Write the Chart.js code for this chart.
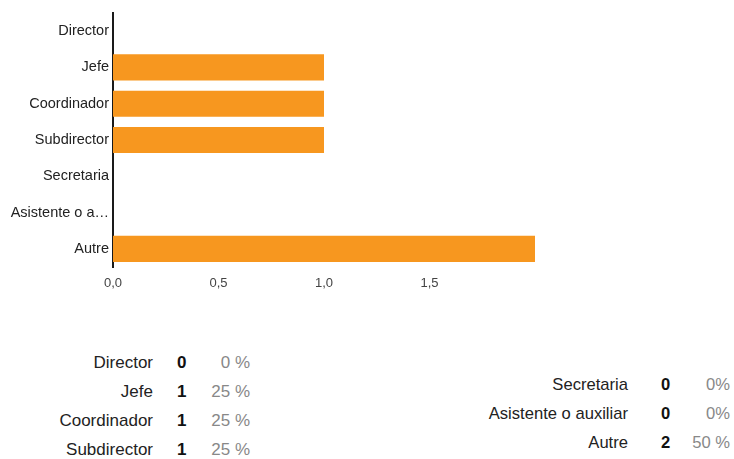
<!DOCTYPE html>
<html>
<head>
<meta charset="utf-8">
<script src="https://cdn.jsdelivr.net/npm/chart.js@4/dist/chart.umd.min.js"></script>
<style>
  body { margin: 0; background: #fff; font-family: Arial, "Liberation Sans", sans-serif; }
  #wrap { position: relative; width: 734px; height: 300px; }
  table { position: absolute; border-collapse: collapse; }
  td { padding: 0; white-space: nowrap; }
  #tabA { left: 0; top: 348px; font-size: 17px; }
  #tabA td { height: 29px; }
  #tabB { left: 0; top: 370px; font-size: 16.6px; }
  #tabB td { height: 29px; }
  .lab { text-align: right; color: #222; }
  .num { font-weight: bold; color: #111; text-align: left; }
  .pct { color: #888; text-align: right; }
</style>
</head>
<body>
<div id="wrap"><canvas id="grafico"></canvas></div>
<table id="tabA"></table>
<table id="tabB"></table>
<script>
// Dados do gráfico
const categorias = ["Director", "Jefe", "Coordinador", "Subdirector", "Secretaria", "Asistente o auxiliar", "Autre"];
const respostas = [0, 1, 1, 1, 0, 0, 2];
const percentuais = ["0 %", "25 %", "25 %", "25 %", "0%", "0%", "50 %"];
const ticksX = [0, 0.5, 1, 1.5];

// Tabela de resumo abaixo do gráfico
function montarTabela(id, inicio, fim, larguras) {
  const tabela = document.getElementById(id);
  let html = "";
  for (let i = inicio; i < fim; i++) {
    html += `<tr>
      <td class="lab" style="width:${larguras[0]}px">${categorias[i]}</td>
      <td class="num" style="width:${larguras[1]}px;padding-left:${larguras[2]}px">${respostas[i]}</td>
      <td class="pct" style="width:${larguras[3]}px">${percentuais[i]}</td>
    </tr>`;
  }
  tabela.innerHTML = html;
}
montarTabela("tabA", 0, 4, [153, 14, 24, 59]);
montarTabela("tabB", 4, 7, [628, 10, 33, 59]);

const ctx = document.getElementById("grafico").getContext("2d");
new Chart(ctx, {
  type: 'bar',
  data: {
    labels: categorias,
    datasets: [{
      data: respostas,
      backgroundColor: '#F7971F',
      borderWidth: 0,
      barPercentage: 0.8,
      categoryPercentage: 0.9
    }]
  },
  options: {
    indexAxis: 'y',
    responsive: true,
    maintainAspectRatio: false,
    animation: false,
    layout: { padding: { top: 13, right: 199, left: 0, bottom: 0 } },
    plugins: { legend: { display: false }, tooltip: { enabled: false } },
    scales: {
      x: {
        min: 0,
        max: 2,
        afterBuildTicks: (scale) => { scale.ticks = ticksX.map(v => ({ value: v })); },
        grid: { display: false, drawTicks: false },
        border: { display: false },
        ticks: {
          color: '#444',
          font: { family: 'Arial, "Liberation Sans"', size: 13 },
          padding: 9,
          callback: (v) => v.toFixed(1).replace('.', ',')
        },
        afterFit: (scale) => { scale.height = 33; }
      },
      y: {
        grid: { display: false, drawTicks: false },
        border: { display: true, color: '#1a1a1a', width: 2 },
        ticks: {
          color: '#222',
          font: { family: 'Arial, "Liberation Sans"', size: 14.5 },
          padding: 4,
          callback: function (v) {
            const t = this.getLabelForValue(v);
            return t.length > 14 ? t.slice(0, 13) + '…' : t;
          }
        },
        afterFit: (scale) => { scale.width = 113; }
      }
    }
  }
});
</script>
</body>
</html>
